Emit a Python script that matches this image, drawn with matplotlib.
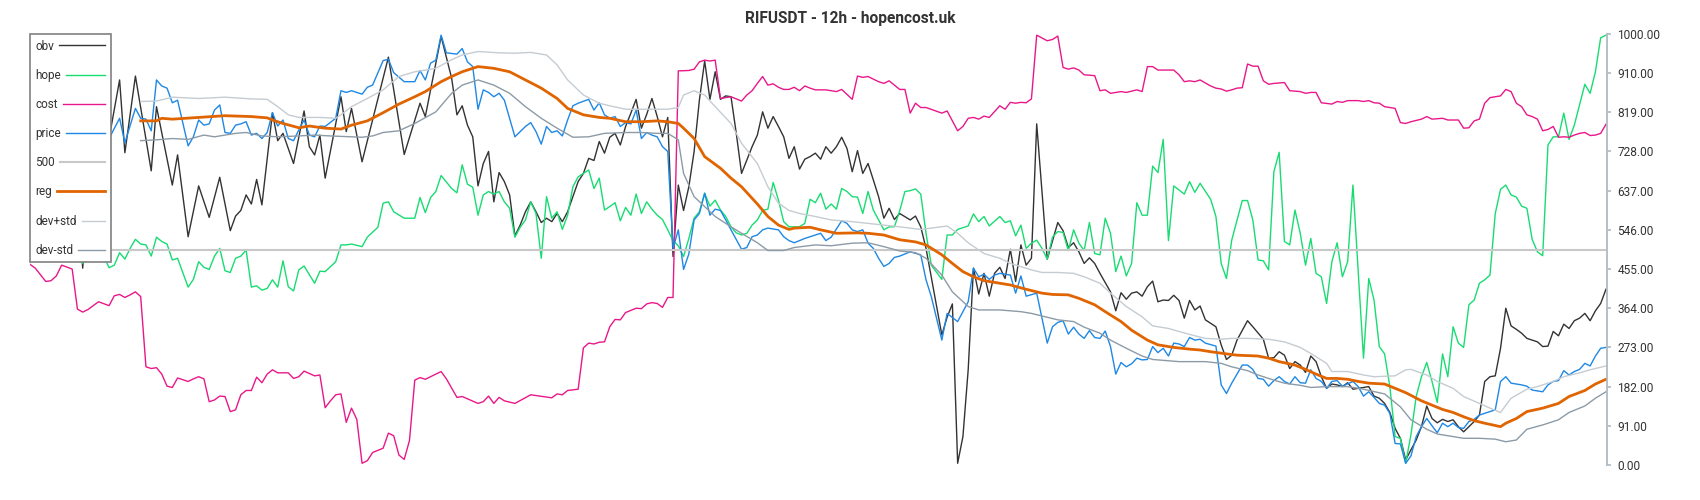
import matplotlib
matplotlib.use("Agg")
import matplotlib.pyplot as plt

plt.rcParams["font.family"] = ["Roboto", "DejaVu Sans"]

title = "RIFUSDT - 12h - hopencost.uk"
n_bars = 300
yticks = [0, 91, 182, 273, 364, 455, 546, 637, 728, 819, 910, 1000]

# obv (vertices, bar index -> value)
obv_x = [0, 2, 4, 6, 8, 10, 12, 14, 15, 17, 18, 20, 23, 24, 27, 28, 30, 32, 34, 36, 38, 39, 40, 41, 42, 43, 44,
         46, 47, 48, 50, 52, 53, 54, 55, 56, 59, 60, 61, 63, 68, 71, 74, 75, 78, 80, 81, 82, 83, 84, 85, 86, 87,
         88, 89, 90, 91, 92, 93, 94, 95, 96, 97, 98, 99, 100, 101, 102, 103, 104, 105, 106, 107, 108, 109, 110,
         111, 112, 113, 114, 115, 116, 117, 118, 119, 120, 121, 122, 123, 124, 125, 126, 127, 128, 129, 130, 131,
         132, 133, 134, 135, 136, 137, 138, 139, 140, 141, 142, 143, 144, 145, 146, 147, 148, 149, 150, 151, 152,
         153, 154, 155, 156, 157, 158, 159, 160, 161, 162, 163, 164, 165, 167, 168, 169, 170, 173, 174, 175, 176,
         177, 178, 179, 180, 181, 182, 183, 184, 185, 186, 187, 188, 189, 190, 191, 193, 195, 196, 197, 198, 199,
         200, 201, 202, 203, 205, 206, 207, 208, 209, 210, 211, 212, 213, 214, 215, 216, 217, 218, 219, 220, 221,
         222, 223, 225, 226, 227, 228, 229, 231, 232, 234, 235, 236, 237, 238, 239, 240, 241, 242, 243, 244, 245,
         246, 247, 248, 249, 250, 251, 253, 254, 255, 256, 257, 258, 259, 260, 261, 262, 263, 264, 265, 266, 267,
         268, 269, 270, 271, 272, 273, 274, 275, 276, 277, 278, 279, 280, 281, 282, 283, 284, 285, 286, 287, 288,
         289, 290, 291, 292, 293, 294, 295, 296, 297, 298, 299]
obv = [800, 740, 830, 760, 820, 457, 780, 720, 758, 894, 725, 903, 683, 832, 650, 720, 530, 648, 575, 668, 544, 578,
       591, 627, 606, 663, 604, 818, 753, 770, 700, 822, 739, 720, 766, 666, 855, 774, 828, 704, 947, 721, 840, 809,
       995, 898, 813, 834, 789, 762, 648, 700, 728, 611, 679, 658, 627, 532, 557, 588, 611, 588, 563, 573, 565, 584,
       565, 588, 623, 658, 677, 712, 707, 751, 724, 761, 770, 743, 786, 817, 849, 782, 814, 851, 809, 762, 807, 484,
       650, 591, 646, 728, 847, 938, 849, 913, 849, 857, 855, 770, 677, 708, 739, 766, 820, 782, 809, 786, 762, 712,
       739, 687, 710, 716, 724, 710, 739, 724, 739, 761, 735, 681, 730, 677, 700, 662, 623, 573, 596, 570, 584, 569,
       578, 553, 503, 302, 343, 374, 4, 66, 221, 457, 397, 445, 392, 445, 459, 433, 501, 426, 511, 464, 480, 792,
       478, 563, 544, 505, 516, 495, 468, 481, 468, 445, 402, 358, 400, 385, 399, 402, 392, 414, 427, 379, 383, 382,
       394, 382, 341, 382, 360, 369, 337, 321, 279, 245, 255, 290, 335, 321, 292, 248, 249, 263, 255, 224, 240, 232,
       215, 253, 240, 205, 178, 188, 186, 182, 191, 176, 180, 182, 160, 155, 143, 122, 85, 62, 12, 35, 58, 89, 137,
       108, 98, 106, 101, 105, 89, 77, 89, 101, 116, 194, 205, 207, 271, 364, 323, 315, 306, 294, 290, 286, 275, 276,
       310, 300, 327, 317, 335, 341, 352, 335, 358, 375, 408]

# hope
hope_x = [0, 2, 4, 6, 8, 10, 12, 14, 15, 16, 17, 18, 19, 20, 21, 22, 23, 24, 25, 26, 27, 28, 30, 31, 32, 33, 34, 35,
          36, 37, 38, 39, 40, 41, 42, 43, 44, 45, 46, 47, 48, 49, 50, 51, 52, 54, 55, 56, 58, 59, 60, 61, 63, 64,
          66, 67, 68, 69, 71, 73, 74, 75, 76, 77, 78, 80, 81, 82, 83, 84, 85, 86, 87, 88, 89, 90, 91, 92, 93, 94,
          95, 96, 97, 98, 99, 100, 101, 102, 103, 104, 106, 107, 108, 109, 110, 111, 112, 113, 114, 115, 116, 117,
          118, 119, 120, 121, 122, 123, 124, 125, 126, 127, 128, 129, 130, 131, 132, 133, 134, 135, 136, 137, 138,
          139, 140, 141, 142, 143, 144, 145, 146, 147, 148, 149, 150, 151, 152, 153, 154, 155, 156, 157, 158, 159,
          160, 161, 162, 163, 164, 165, 166, 167, 168, 169, 170, 171, 173, 174, 175, 176, 178, 179, 180, 181, 182,
          184, 185, 186, 187, 188, 189, 190, 191, 192, 193, 194, 195, 196, 197, 198, 199, 200, 201, 202, 203, 204,
          205, 206, 207, 208, 209, 210, 211, 212, 213, 214, 215, 216, 217, 219, 220, 221, 222, 224, 225, 226, 227,
          228, 230, 231, 232, 233, 234, 235, 236, 237, 238, 239, 240, 241, 242, 243, 244, 245, 246, 247, 248, 249,
          250, 251, 253, 254, 255, 256, 257, 258, 259, 260, 261, 262, 263, 264, 265, 266, 267, 268, 269, 270, 271,
          272, 273, 274, 275, 276, 277, 278, 279, 280, 281, 282, 283, 284, 285, 286, 287, 288, 289, 290, 291, 292,
          293, 295, 296, 297, 298, 299]
hope = [505, 495, 510, 490, 500, 468, 490, 485, 458, 464, 493, 478, 503, 524, 513, 511, 485, 529, 519, 513, 476, 480,
        413, 431, 472, 459, 454, 485, 503, 451, 447, 480, 485, 499, 413, 416, 406, 410, 430, 413, 474, 414, 404, 453,
        462, 422, 450, 449, 472, 511, 511, 513, 507, 529, 552, 608, 611, 588, 573, 573, 621, 586, 621, 635, 672, 642,
        632, 697, 652, 645, 580, 627, 635, 629, 635, 611, 596, 529, 552, 569, 611, 584, 480, 623, 573, 588, 547, 580,
        646, 669, 685, 642, 666, 592, 600, 609, 567, 598, 580, 629, 584, 611, 594, 580, 570, 546, 521, 509, 484, 526,
        573, 588, 631, 601, 615, 592, 577, 553, 539, 534, 538, 557, 569, 591, 594, 656, 615, 565, 553, 553, 553, 561,
        617, 609, 631, 594, 606, 594, 642, 635, 623, 622, 584, 635, 592, 569, 546, 553, 553, 590, 635, 637, 641, 629,
        538, 464, 431, 534, 534, 547, 555, 583, 565, 577, 555, 577, 563, 567, 532, 557, 503, 515, 522, 503, 478, 529,
        542, 540, 498, 546, 515, 498, 563, 491, 488, 573, 538, 449, 485, 439, 468, 609, 580, 580, 694, 679, 756, 521,
        648, 629, 658, 633, 654, 617, 577, 468, 433, 522, 614, 614, 569, 476, 474, 453, 681, 726, 519, 511, 592, 538,
        464, 526, 445, 437, 375, 472, 516, 437, 472, 650, 248, 433, 383, 275, 258, 182, 66, 62, 4, 70, 159, 205, 238,
        194, 145, 258, 205, 321, 283, 273, 372, 383, 422, 430, 441, 584, 640, 650, 627, 622, 601, 596, 524, 495, 486,
        743, 762, 762, 817, 756, 789, 884, 863, 913, 992, 998]

# cost
cost_x = [0, 1, 3, 4, 5, 6, 8, 9, 10, 11, 13, 15, 16, 17, 18, 19, 20, 21, 22, 23, 24, 25, 26, 27, 28, 30, 31, 32, 33,
          34, 35, 36, 37, 38, 39, 40, 41, 42, 43, 44, 45, 46, 47, 49, 50, 51, 52, 54, 55, 56, 57, 58, 59, 60, 61,
          62, 63, 64, 65, 67, 68, 69, 70, 71, 72, 73, 74, 75, 76, 78, 79, 81, 82, 85, 86, 87, 88, 89, 90, 92, 95,
          99, 100, 101, 102, 104, 105, 106, 107, 108, 109, 110, 111, 112, 113, 115, 116, 117, 118, 119, 120, 121,
          122, 123, 125, 126, 127, 128, 129, 130, 131, 132, 133, 135, 136, 137, 138, 139, 140, 141, 142, 143, 144,
          145, 146, 147, 148, 149, 151, 153, 154, 156, 157, 158, 159, 161, 162, 163, 165, 166, 167, 168, 169, 170,
          173, 174, 176, 177, 178, 179, 180, 181, 182, 184, 185, 186, 187, 188, 189, 190, 191, 193, 194, 195, 196,
          197, 198, 199, 200, 202, 203, 204, 205, 207, 208, 210, 211, 212, 213, 214, 217, 218, 219, 220, 221, 222,
          224, 225, 226, 227, 228, 229, 230, 231, 232, 233, 234, 235, 236, 238, 239, 241, 242, 243, 244, 245, 247,
          248, 249, 250, 252, 253, 254, 255, 256, 257, 259, 260, 261, 262, 264, 265, 266, 268, 269, 271, 272, 273,
          274, 275, 276, 277, 279, 280, 281, 282, 283, 284, 285, 286, 287, 288, 289, 290, 291, 292, 293, 294, 295,
          296, 297, 298, 299]
cost = [466, 457, 426, 428, 439, 464, 455, 362, 355, 361, 379, 370, 393, 396, 389, 395, 402, 391, 228, 224, 226, 211,
        183, 180, 202, 194, 200, 205, 200, 147, 151, 160, 159, 124, 128, 163, 173, 173, 204, 191, 211, 221, 214, 214,
        201, 205, 218, 207, 209, 133, 149, 163, 165, 99, 132, 106, 4, 10, 29, 39, 74, 68, 23, 13, 57, 197, 203, 199,
        205, 217, 200, 157, 159, 143, 147, 160, 143, 157, 149, 143, 163, 156, 165, 163, 173, 176, 272, 283, 281, 285,
        286, 321, 338, 337, 354, 364, 363, 374, 377, 375, 366, 389, 389, 915, 916, 919, 936, 940, 938, 940, 851, 853,
        855, 845, 859, 869, 886, 902, 882, 885, 877, 872, 872, 877, 869, 880, 875, 871, 871, 867, 872, 849, 903, 900,
        902, 890, 886, 892, 872, 872, 817, 840, 830, 830, 817, 822, 776, 786, 805, 807, 803, 810, 807, 834, 826, 842,
        840, 842, 841, 850, 998, 985, 988, 996, 923, 919, 922, 917, 906, 904, 869, 871, 863, 867, 865, 871, 867, 925,
        925, 917, 917, 906, 890, 892, 890, 894, 880, 875, 873, 868, 871, 875, 876, 931, 926, 926, 892, 884, 886, 888,
        869, 867, 863, 865, 865, 841, 838, 844, 842, 846, 846, 844, 846, 841, 840, 832, 828, 795, 793, 797, 803, 809,
        803, 805, 801, 801, 782, 783, 799, 803, 840, 853, 857, 872, 867, 840, 832, 813, 809, 803, 776, 779, 786, 761,
        762, 761, 766, 770, 772, 765, 766, 770, 791]

# price
price_x = [0, 2, 4, 6, 8, 10, 12, 14, 15, 17, 18, 20, 21, 22, 23, 24, 25, 26, 27, 28, 30, 31, 32, 33, 34, 35, 36,
           37, 38, 39, 40, 41, 42, 43, 44, 45, 46, 47, 48, 49, 50, 51, 52, 53, 54, 55, 56, 58, 59, 60, 61, 62, 63,
           64, 65, 67, 68, 69, 71, 73, 74, 75, 76, 77, 78, 79, 81, 82, 83, 84, 85, 86, 87, 88, 89, 90, 92, 94, 95,
           96, 97, 98, 99, 100, 101, 102, 103, 104, 106, 107, 108, 109, 110, 111, 112, 113, 114, 115, 116, 117, 118,
           119, 120, 121, 122, 123, 124, 125, 126, 127, 128, 129, 130, 131, 132, 133, 135, 136, 137, 138, 139, 140,
           142, 143, 144, 145, 146, 147, 149, 150, 151, 152, 154, 155, 156, 157, 158, 159, 160, 161, 162, 163, 164,
           165, 167, 169, 170, 171, 173, 174, 176, 178, 179, 180, 181, 182, 183, 184, 186, 187, 188, 189, 191, 193,
           194, 195, 196, 197, 198, 199, 200, 201, 202, 203, 204, 205, 206, 207, 208, 209, 210, 211, 212, 213, 214,
           215, 216, 217, 218, 219, 220, 221, 222, 223, 225, 226, 227, 228, 230, 231, 232, 233, 234, 235, 236, 237,
           238, 239, 240, 241, 242, 243, 244, 245, 246, 247, 248, 249, 251, 252, 253, 254, 255, 256, 257, 258, 259,
           260, 261, 262, 263, 264, 265, 266, 267, 268, 269, 270, 271, 272, 273, 274, 275, 277, 278, 279, 280, 281,
           283, 284, 285, 287, 288, 289, 290, 291, 292, 293, 294, 295, 296, 297, 298, 299]
price = [800, 780, 820, 790, 810, 770, 800, 770, 758, 805, 748, 828, 805, 803, 776, 894, 880, 875, 841, 847, 741, 762,
         801, 789, 792, 824, 836, 772, 770, 789, 792, 797, 766, 770, 758, 772, 818, 787, 801, 758, 753, 778, 801, 766,
         762, 787, 786, 805, 869, 865, 869, 865, 861, 877, 882, 939, 942, 911, 890, 890, 916, 894, 933, 940, 998, 957,
         954, 967, 936, 925, 826, 871, 865, 855, 863, 847, 762, 786, 795, 774, 745, 786, 772, 776, 764, 801, 834, 840,
         849, 824, 841, 813, 805, 809, 786, 795, 792, 824, 758, 772, 766, 762, 739, 728, 503, 546, 454, 490, 569, 584,
         631, 580, 594, 591, 569, 546, 501, 505, 530, 534, 546, 550, 546, 530, 521, 516, 521, 526, 534, 538, 521, 529,
         567, 561, 546, 542, 546, 515, 503, 480, 461, 468, 482, 485, 495, 488, 430, 391, 290, 352, 333, 379, 457, 437,
         443, 431, 441, 445, 441, 399, 439, 392, 399, 283, 321, 331, 335, 304, 320, 304, 294, 312, 296, 294, 311, 275,
         211, 238, 228, 235, 248, 244, 245, 275, 261, 271, 253, 283, 281, 275, 296, 290, 292, 283, 276, 186, 166, 190,
         232, 232, 222, 201, 199, 183, 196, 205, 194, 188, 205, 191, 190, 221, 201, 194, 178, 194, 196, 183, 194, 182,
         160, 170, 157, 143, 139, 120, 50, 49, 4, 21, 66, 89, 108, 91, 75, 97, 89, 97, 87, 85, 101, 106, 116, 124, 128,
         194, 205, 190, 186, 183, 174, 170, 186, 194, 196, 219, 209, 217, 222, 236, 230, 253, 271, 273]

# reg
reg_x = [21, 24, 25, 27, 32, 37, 42, 45, 46, 48, 51, 53, 56, 59, 61, 64, 67, 70, 73, 75, 78, 80, 82, 85, 88, 91, 94,
         97, 100, 102, 105, 108, 110, 113, 116, 119, 121, 123, 124, 126, 128, 131, 133, 135, 138, 140, 142, 144, 145,
         148, 150, 153, 157, 159, 162, 165, 168, 170, 173, 175, 177, 179, 181, 184, 186, 189, 192, 194, 197, 199, 202,
         204, 207, 209, 212, 214, 217, 220, 222, 224, 227, 229, 233, 235, 237, 240, 242, 244, 246, 248, 250, 252, 254,
         257, 259, 261, 264, 266, 268, 270, 272, 274, 276, 279, 280, 282, 284, 287, 290, 292, 295, 297, 299]
reg = [799, 799, 805, 803, 807, 811, 809, 806, 801, 793, 783, 787, 782, 780, 789, 799, 818, 838, 855, 867, 890, 902,
       913, 925, 921, 913, 894, 875, 851, 828, 813, 807, 805, 797, 797, 799, 797, 793, 782, 758, 716, 689, 666, 646,
       606, 577, 557, 547, 550, 552, 546, 538, 539, 538, 534, 523, 518, 511, 488, 468, 449, 437, 428, 422, 418, 408,
       399, 396, 395, 387, 372, 356, 333, 313, 290, 279, 273, 269, 267, 263, 258, 255, 253, 248, 240, 232, 222, 211,
       201, 201, 199, 194, 190, 188, 178, 168, 149, 139, 129, 122, 112, 103, 97, 89, 97, 108, 124, 132, 143, 159, 173,
       188, 199]

# dev+std
dev_hi_x = [21, 24, 27, 32, 37, 42, 45, 47, 49, 51, 55, 58, 59, 61, 64, 67, 70, 73, 77, 80, 82, 85, 89, 92, 95, 98,
            100, 102, 105, 108, 110, 113, 118, 121, 123, 124, 126, 128, 130, 133, 135, 138, 140, 142, 144, 146, 149,
            152, 156, 159, 162, 165, 169, 171, 174, 176, 178, 181, 184, 186, 190, 192, 195, 198, 200, 203, 205, 208,
            211, 213, 216, 218, 221, 223, 226, 228, 231, 235, 238, 241, 243, 246, 247, 250, 253, 255, 259, 261, 262,
            265, 267, 270, 272, 275, 277, 279, 281, 284, 286, 289, 291, 294, 296, 299]
dev_hi = [844, 845, 854, 851, 854, 850, 849, 832, 813, 807, 807, 805, 813, 832, 851, 871, 902, 913, 921, 941, 952, 960,
          957, 956, 958, 952, 929, 894, 859, 840, 834, 826, 826, 826, 830, 859, 869, 859, 832, 793, 747, 700, 646, 608,
          591, 584, 577, 569, 565, 561, 557, 553, 547, 550, 555, 538, 516, 491, 480, 468, 453, 447, 447, 445, 437, 422,
          399, 368, 344, 323, 317, 310, 300, 294, 292, 294, 294, 292, 286, 273, 259, 236, 217, 217, 209, 205, 207, 221,
          222, 209, 194, 178, 159, 143, 132, 122, 155, 176, 182, 194, 205, 214, 221, 230]

# dev-std
dev_lo_x = [21, 24, 27, 30, 33, 35, 39, 41, 44, 47, 51, 54, 57, 61, 63, 65, 67, 70, 73, 77, 80, 82, 85, 88, 91, 94,
            97, 100, 103, 106, 109, 113, 116, 119, 121, 123, 124, 126, 128, 130, 133, 135, 138, 140, 143, 145, 149,
            152, 156, 159, 162, 165, 168, 170, 173, 175, 178, 180, 184, 188, 190, 193, 195, 198, 200, 203, 205, 208,
            211, 213, 216, 218, 223, 226, 228, 231, 233, 236, 238, 241, 243, 246, 250, 253, 257, 260, 262, 265, 267,
            270, 272, 275, 278, 280, 282, 284, 287, 290, 292, 295, 297, 299]
dev_lo = [753, 755, 758, 756, 766, 762, 770, 772, 764, 762, 764, 766, 764, 762, 761, 764, 772, 776, 793, 820, 863, 882,
          894, 882, 863, 832, 805, 782, 761, 762, 770, 772, 772, 770, 770, 755, 677, 623, 600, 577, 553, 538, 516, 498,
          498, 505, 511, 509, 515, 516, 507, 497, 493, 480, 441, 402, 368, 360, 360, 356, 352, 343, 337, 333, 320, 306,
          290, 271, 253, 245, 242, 240, 240, 236, 228, 219, 209, 197, 190, 185, 180, 182, 182, 176, 165, 135, 105, 83,
          72, 66, 62, 62, 60, 54, 58, 83, 93, 105, 122, 137, 155, 170]

fig = plt.figure(figsize=(17, 5), dpi=100)
ax = fig.add_axes([30 / 1700, 0.07, 1577 / 1700, 0.8614])

ax.plot(obv_x, obv, color="#333333", lw=1.0, label="obv")
ax.plot(hope_x, hope, color="#18dc72", lw=1.0, label="hope")
ax.plot(cost_x, cost, color="#e8188a", lw=1.0, label="cost")
ax.plot(price_x, price, color="#1e88e5", lw=1.0, label="price")
ax.axhline(500, color="#c8c8c8", lw=1.5, label="500")
ax.plot(reg_x, reg, color="#e06400", lw=2.0, label="reg")
ax.plot(dev_hi_x, dev_hi, color="#c5ccd2", lw=1.0, label="dev+std")
ax.plot(dev_lo_x, dev_lo, color="#8d9ba7", lw=1.0, label="dev-std")

ax.set_xlim(0, n_bars - 0.8)
ax.set_ylim(0, 1000)
ax.set_xticks([])
ax.yaxis.tick_right()
ax.set_yticks(yticks)
ax.set_yticklabels(["{0:.2f}".format(t) for t in yticks])
ax.tick_params(axis="y", colors="#b0bac2", labelcolor="#333333", labelsize=8.6, length=3, width=1.2, pad=4.5)
for side in ["top", "left", "bottom"]:
    ax.spines[side].set_visible(False)
ax.spines["right"].set_color("#b0bac2")
ax.spines["right"].set_linewidth(1.3)

leg = ax.legend(loc="upper left", bbox_to_anchor=(0, 1), borderaxespad=0, markerfirst=False,
                fontsize=8.5, labelspacing=1.37, handlelength=2.0, handletextpad=0.42,
                borderpad=0.45, fancybox=False, framealpha=1, edgecolor="#808080")
leg.get_frame().set_linewidth(1.2)
for t in leg.get_texts():
    t.set_color("#333333")

# labels flush left, handle lines stretched to a common right edge
fig.canvas.draw()
rend = fig.canvas.get_renderer()
col = leg._legend_handle_box.get_children()[0]
col.align = "left"
rows = col.get_children()
tw = [row.get_children()[0].get_window_extent(rend).width * 72 / fig.dpi for row in rows]
for row, w in zip(rows, tw):
    da = row.get_children()[1]
    hl = 17 + (max(tw) - w)
    da.width = hl
    for a in da.get_children():
        yy = a.get_ydata()[0]
        a.set_data([0, hl], [yy, yy])

fig.text(0.5, 1 - 19 / 500, title, ha="center", va="center", fontsize=11.2, fontweight="bold", color="#333333")

fig.savefig("out.png", dpi=100)
